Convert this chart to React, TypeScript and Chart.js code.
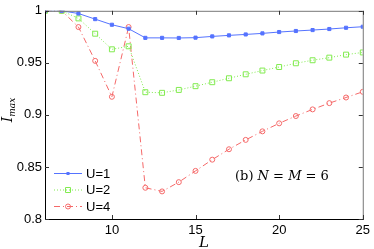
import React, { useEffect, useRef } from 'react';
import { Chart, registerables } from 'chart.js';

Chart.register(...registerables);

const L = [6, 7, 8, 9, 10, 11, 12, 13, 14, 15, 16, 17, 18, 19, 20, 21, 22, 23, 24, 25];
const U1 = [1, 1, 0.9974, 0.992, 0.9866, 0.9828, 0.974, 0.974, 0.9739, 0.9742, 0.9754, 0.9764, 0.9773, 0.9783, 0.9796, 0.9806, 0.9815, 0.9825, 0.9837, 0.9847];
const U2 = [1, 1, 0.9927, 0.978, 0.963, 0.9659, 0.9218, 0.9212, 0.924, 0.9276, 0.9314, 0.9352, 0.939, 0.9426, 0.946, 0.9496, 0.9525, 0.955, 0.9579, 0.96];
const U4 = [1, 1, 0.9844, 0.9519, 0.9174, 0.9844, 0.83, 0.8265, 0.8354, 0.8462, 0.857, 0.867, 0.876, 0.8842, 0.8919, 0.8989, 0.9053, 0.9113, 0.9167, 0.9222];
const X_TICKS = [10, 15, 20, 25];
const Y_TICKS = [0.8, 0.85, 0.9, 0.95, 1];
const LABELS = ['U=1', 'U=2', 'U=4'];

const BLUE = 'rgb(85,115,255)';
const GREEN = 'rgb(130,235,80)';
const RED = 'rgb(245,105,105)';

function drawMarker(ctx: CanvasRenderingContext2D, kind: string, x: number, y: number, color: string) {
  ctx.save();
  ctx.setLineDash([]);
  ctx.strokeStyle = color;
  ctx.fillStyle = color;
  ctx.lineWidth = 1;
  ctx.beginPath();
  if (kind === 'star') {
    ctx.rect(x - 1.5, y - 1.5, 3, 3);
    ctx.fill();
  } else if (kind === 'rect') {
    ctx.rect(x - 2.5, y - 2.5, 5, 5);
    ctx.stroke();
  } else {
    ctx.arc(x, y, 2.5, 0, Math.PI * 2);
    ctx.stroke();
  }
  ctx.restore();
}

const framePlugin = {
  id: 'frame',
  afterDraw(chart: any) {
    const ctx: CanvasRenderingContext2D = chart.ctx;
    const { left, right, top, bottom } = chart.chartArea;
    const xs = chart.scales.x;
    const ys = chart.scales.y;
    ctx.save();
    ctx.lineWidth = 1;
    // frame
    ctx.strokeStyle = '#777';
    ctx.beginPath();
    ctx.moveTo(left, top + 0.5);
    ctx.lineTo(right + 0.5, top + 0.5);
    ctx.lineTo(right + 0.5, bottom);
    ctx.stroke();
    ctx.strokeStyle = '#000';
    ctx.beginPath();
    ctx.moveTo(left + 0.5, top);
    ctx.lineTo(left + 0.5, bottom + 0.5);
    ctx.lineTo(right + 1, bottom + 0.5);
    ctx.stroke();
    // inward ticks
    ctx.strokeStyle = '#333';
    const tl = 4;
    X_TICKS.forEach((v) => {
      const px = Math.round(xs.getPixelForValue(v)) + 0.5;
      ctx.beginPath();
      ctx.moveTo(px, bottom);
      ctx.lineTo(px, bottom - tl);
      ctx.moveTo(px, top);
      ctx.lineTo(px, top + tl);
      ctx.stroke();
    });
    Y_TICKS.forEach((v) => {
      const py = Math.round(ys.getPixelForValue(v)) + 0.5;
      ctx.beginPath();
      ctx.moveTo(left, py);
      ctx.lineTo(left + tl, py);
      ctx.moveTo(right, py);
      ctx.lineTo(right - tl, py);
      ctx.stroke();
    });
    // axis titles
    ctx.fillStyle = '#000';
    ctx.textBaseline = 'alphabetic';
    ctx.textAlign = 'left';
    ctx.font = 'italic 15px "DejaVu Serif", serif';
    const lw = ctx.measureText('L').width;
    ctx.fillText('L', (left + right) / 2 - lw / 2, 247);
    ctx.save();
    ctx.translate(12, 110);
    ctx.rotate(-Math.PI / 2);
    ctx.font = 'italic 14px "DejaVu Serif", serif';
    const iw = ctx.measureText('I').width;
    ctx.font = 'italic 9px "DejaVu Serif", serif';
    const mw = ctx.measureText('max').width;
    const sx = -(iw + mw) / 2;
    ctx.font = 'italic 14px "DejaVu Serif", serif';
    ctx.fillText('I', sx, 0);
    ctx.font = 'italic 9px "DejaVu Serif", serif';
    ctx.fillText('max', sx + iw, 3);
    ctx.restore();
    // legend
    const colors = [BLUE, GREEN, RED];
    const dashes = [[], [1, 2], [6, 3, 1, 3]];
    const kinds = ['star', 'rect', 'circle'];
    const ly = [173.5, 190, 206.5];
    ctx.font = '13px "Liberation Sans", Arial, sans-serif';
    ctx.textBaseline = 'middle';
    LABELS.forEach((lab, i) => {
      ctx.strokeStyle = colors[i];
      ctx.setLineDash(dashes[i]);
      ctx.beginPath();
      ctx.moveTo(54, ly[i]);
      ctx.lineTo(82, ly[i]);
      ctx.stroke();
      ctx.setLineDash([]);
      drawMarker(ctx, kinds[i], 68, ly[i], colors[i]);
      ctx.fillStyle = '#000';
      ctx.fillText(lab, 86, ly[i] + 0.5);
    });
    // annotation
    const parts: [string, boolean][] = [['(b) ', false], ['N', true], [' = ', false], ['M', true], [' = 6', false]];
    let ax = 235;
    ctx.textBaseline = 'middle';
    parts.forEach(([t, it]) => {
      ctx.font = (it ? 'italic ' : '') + '13px "DejaVu Serif", serif';
      ctx.fillText(t, ax, 177);
      ax += ctx.measureText(t).width;
    });
    ctx.restore();
  },
};

export default function App() {
  const ref = useRef<HTMLCanvasElement>(null);
  useEffect(() => {
    document.body.style.margin = '0';
    const mk = (arr: number[]) => L.map((x, i) => ({ x, y: arr[i] }));
    const tickFont = { family: '"Liberation Sans", Arial, sans-serif', size: 13 };
    const chart = new Chart(ref.current as HTMLCanvasElement, {
      type: 'line',
      data: {
        datasets: [
          {
            label: LABELS[0],
            data: mk(U1),
            borderColor: BLUE,
            backgroundColor: BLUE,
            borderWidth: 1,
            pointStyle: 'rect',
            pointRadius: 2.2,
            pointBackgroundColor: BLUE,
            pointBorderColor: BLUE,
          },
          {
            label: LABELS[1],
            data: mk(U2),
            borderColor: GREEN,
            backgroundColor: 'transparent',
            borderWidth: 1,
            borderDash: [1, 2],
            pointStyle: 'rect',
            pointRadius: 3.5,
            pointBorderWidth: 1,
            pointBackgroundColor: 'transparent',
            pointBorderColor: GREEN,
          },
          {
            label: LABELS[2],
            data: mk(U4),
            borderColor: RED,
            backgroundColor: 'transparent',
            borderWidth: 1,
            borderDash: [6, 3, 1, 3],
            pointStyle: 'circle',
            pointRadius: 2.5,
            pointBorderWidth: 1,
            pointBackgroundColor: 'transparent',
            pointBorderColor: RED,
          },
        ],
      },
      options: {
        responsive: false,
        animation: false,
        layout: { padding: { top: 10, right: 10, left: 0, bottom: 0 } },
        plugins: { legend: { display: false }, tooltip: { enabled: false } },
        scales: {
          x: {
            type: 'linear',
            min: 6,
            max: 25,
            afterBuildTicks: (s: any) => {
              s.ticks = X_TICKS.map((v) => ({ value: v }));
            },
            afterFit: (s: any) => {
              s.height = 30;
            },
            grid: { display: false, drawTicks: false },
            border: { display: false },
            ticks: { font: tickFont, color: '#000', padding: 4, maxRotation: 0, callback: (v: any) => String(v) },
          },
          y: {
            type: 'linear',
            min: 0.8,
            max: 1,
            afterBuildTicks: (s: any) => {
              s.ticks = Y_TICKS.map((v) => ({ value: v }));
            },
            afterFit: (s: any) => {
              s.width = 45;
            },
            grid: { display: false, drawTicks: false },
            border: { display: false },
            ticks: { font: tickFont, color: '#000', padding: 3, callback: (v: any) => String(+Number(v).toFixed(2)) },
          },
        },
      },
      plugins: [framePlugin],
    });
    return () => chart.destroy();
  }, []);
  return (
    <div style={{ position: 'absolute', left: 0, top: 0, width: 374, height: 249, background: '#fff' }}>
      <canvas ref={ref} width={374} height={249} />
    </div>
  );
}
